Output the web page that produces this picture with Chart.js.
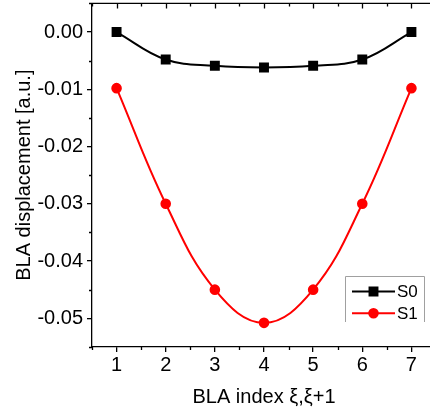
<!DOCTYPE html>
<html>
<head>
<meta charset="utf-8">
<script src="https://cdn.jsdelivr.net/npm/chart.js@4/dist/chart.umd.min.js"></script>
<style>
    html, body { margin: 0; padding: 0; background: #fff; overflow: hidden; }
    #wrap { width: 430px; height: 419px; overflow: hidden; position: relative; }
    #myChart { display: block; }
</style>
</head>
<body>
<div id="wrap">
    <canvas id="myChart" width="436" height="419"></canvas>
</div>
<script>
'use strict'

// data
const blaIndex = [1, 2, 3, 4, 5, 6, 7];
const s0Values = [0.0000, -0.0048, -0.0059, -0.0062, -0.0059, -0.0048, 0.0000];
const s1Values = [-0.0098, -0.0300, -0.0450, -0.0508, -0.0450, -0.0300, -0.0098];
const seriesNames = ['S0', 'S1'];
const xTickValues = [1, 2, 3, 4, 5, 6, 7];
const yTickValues = [0, -0.01, -0.02, -0.03, -0.04, -0.05];
const xMinorTicks = [0.5, 1.5, 2.5, 3.5, 4.5, 5.5, 6.5, 7.5];
const yMinorTicks = [0.005, -0.005, -0.015, -0.025, -0.035, -0.045, -0.055];

const FONT = 'Arial, "Liberation Sans", sans-serif';
const ctx = document.getElementById('myChart').getContext('2d');

function toPoints(xs, ys) {
    return xs.map((x, i) => ({x: x, y: ys[i]}));
}

// minor ticks + top axis with inward ticks
const axisExtras = {
    id: 'axisExtras',
    afterDraw(chart) {
        const c = chart.ctx;
        const xs = chart.scales.x;
        const ys = chart.scales.y;
        const area = chart.chartArea;
        c.save();
        c.strokeStyle = '#000';
        c.lineWidth = 1.3;
        c.beginPath();
        // top line
        c.moveTo(area.left, area.top);
        c.lineTo(area.right, area.top);
        // top major ticks (inward)
        for (let v of xTickValues) {
            let px = Math.round(xs.getPixelForValue(v)) + 0.5;
            c.moveTo(px, area.top);
            c.lineTo(px, area.top + 5);
        }
        for (let v of xMinorTicks) {
            let px = Math.round(xs.getPixelForValue(v)) + 0.5;
            c.moveTo(px, area.top);
            c.lineTo(px, area.top + 3);
            // bottom minor (outward)
            c.moveTo(px, area.bottom);
            c.lineTo(px, area.bottom + 3);
        }
        for (let v of yMinorTicks) {
            let py = Math.round(ys.getPixelForValue(v)) + 0.5;
            c.moveTo(area.left, py);
            c.lineTo(area.left - 3, py);
        }
        c.stroke();
        c.restore();
    }
};

// legend box inside the plot
const boxLegend = {
    id: 'boxLegend',
    afterDraw(chart) {
        const c = chart.ctx;
        const left = 345.5, top = 276.5, right = 424.5, bottom = 322;
        c.save();
        c.strokeStyle = '#a0a0a0';
        c.lineWidth = 1;
        c.beginPath();
        c.moveTo(left, bottom);
        c.lineTo(left, top);
        c.lineTo(right, top);
        c.lineTo(right, bottom);
        c.stroke();

        chart.data.datasets.forEach((ds, i) => {
            let y = 291.5 + i * 21.7;
            c.strokeStyle = ds.borderColor;
            c.lineWidth = 2;
            c.beginPath();
            c.moveTo(352, y);
            c.lineTo(395, y);
            c.stroke();
            c.fillStyle = ds.pointBackgroundColor;
            c.strokeStyle = ds.pointBorderColor;
            Chart.helpers.drawPoint(c, {
                pointStyle: ds.pointStyle,
                radius: ds.pointRadius,
                borderWidth: 1,
                rotation: 0
            }, 373.5, y);
            c.fillStyle = '#000';
            c.font = '17px ' + FONT;
            c.textBaseline = 'middle';
            c.textAlign = 'left';
            c.fillText(ds.label, 397, y + 1);
        });
        c.restore();
    }
};

function chartConfig() {
    return {
        type: 'line',
        data: {
            datasets: [{
                label: seriesNames[0],
                data: toPoints(blaIndex, s0Values),
                borderColor: '#000000',
                backgroundColor: '#000000',
                pointBackgroundColor: '#000000',
                pointBorderColor: '#000000',
                pointStyle: 'rect',
                pointRadius: 5.6,
                borderWidth: 2,
                tension: 0.4
            }, {
                label: seriesNames[1],
                data: toPoints(blaIndex, s1Values),
                borderColor: '#ff0000',
                backgroundColor: '#ff0000',
                pointBackgroundColor: '#ff0000',
                pointBorderColor: '#ff0000',
                pointStyle: 'circle',
                pointRadius: 4.3,
                borderWidth: 2,
                tension: 0.4
            }]
        },
        options: {
            responsive: false,
            animation: false,
            layout: {autoPadding: false, padding: {top: 3.4, right: 0, left: 0, bottom: 0}},
            plugins: {
                legend: {display: false},
                tooltip: {enabled: false}
            },
            scales: {
                x: {
                    type: 'linear',
                    position: 'bottom',
                    min: 0.5,
                    max: 7.5,
                    afterBuildTicks: (scale) => { scale.ticks = xTickValues.map(v => ({value: v})); },
                    afterFit: (scale) => {
                        scale.height = 72.1;
                        scale.paddingLeft = 0;
                        scale.paddingRight = 0;
                    },
                    ticks: {
                        color: '#000',
                        font: {family: FONT, size: 20},
                        padding: 2,
                        maxRotation: 0,
                        callback: (v) => String(v)
                    },
                    grid: {
                        drawOnChartArea: false,
                        drawTicks: true,
                        tickLength: 5,
                        color: '#000',
                        lineWidth: 1.3
                    },
                    border: {display: true, color: '#000', width: 1.3},
                    title: {
                        display: true,
                        text: 'BLA index ξ,ξ+1',
                        color: '#000',
                        font: {family: FONT, size: 20},
                        padding: {top: 0, bottom: 9.6}
                    }
                },
                y: {
                    type: 'linear',
                    min: -0.055,
                    max: 0.005,
                    afterBuildTicks: (scale) => { scale.ticks = yTickValues.map(v => ({value: v})); },
                    afterFit: (scale) => {
                        scale.width = 92;
                        // ticks sit well inside the axis, no extra room needed
                        scale.paddingTop = 0;
                        scale.paddingBottom = 0;
                    },
                    ticks: {
                        color: '#000',
                        font: {family: FONT, size: 20},
                        padding: 4,
                        callback: (v) => v.toFixed(2)
                    },
                    grid: {
                        drawOnChartArea: false,
                        drawTicks: true,
                        tickLength: 5,
                        color: '#000',
                        lineWidth: 1.3
                    },
                    border: {display: true, color: '#000', width: 1.3},
                    title: {
                        display: true,
                        text: 'BLA displacement [a.u.]',
                        color: '#000',
                        font: {family: FONT, size: 20},
                        padding: {top: 12.6, bottom: 0}
                    }
                }
            }
        },
        plugins: [axisExtras, boxLegend]
    };
}

const myChart = new Chart(ctx, chartConfig());
</script>
</body>
</html>
